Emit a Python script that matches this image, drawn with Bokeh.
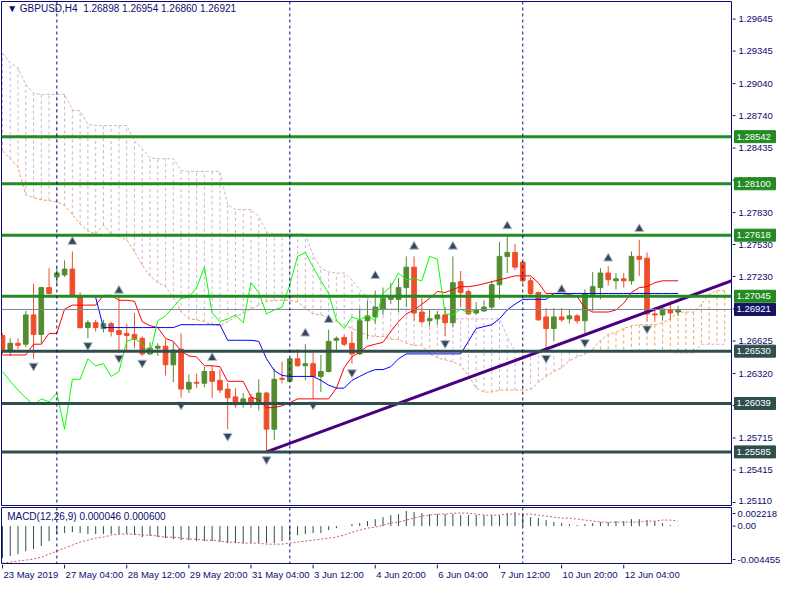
from bokeh.plotting import figure
from bokeh.models import Span, Label, Range1d
from bokeh.layouts import column, row
from bokeh.embed import file_html
from bokeh.resources import INLINE
from bokeh.core.properties import value
import numpy as np

# ---------------- data ----------------
symbol = "GBPUSD,H4"
time_ticks = [0, 8, 16, 24, 32, 40, 48, 56, 64, 72, 80]
time_labels = ["23 May 2019", "27 May 04:00", "28 May 12:00", "29 May 20:00", "31 May 04:00",
               "3 Jun 12:00", "4 Jun 20:00", "6 Jun 04:00", "7 Jun 12:00", "10 Jun 20:00", "12 Jun 04:00"]
week_separators = [7, 37, 67]
price_ticks = [1.29645, 1.29345, 1.29040, 1.28740, 1.28435, 1.28135, 1.27830, 1.27530, 1.27230,
               1.26925, 1.26625, 1.26320, 1.26020, 1.25715, 1.25415, 1.25110]

opens = [1.26677, 1.26540, 1.26604, 1.26595, 1.26870, 1.26687, 1.27126, 1.27226, 1.27245, 1.27300,
         1.27043, 1.26751, 1.26797, 1.26742, 1.26788, 1.26723, 1.26696, 1.26687, 1.26650, 1.26504,
         1.26558, 1.26576, 1.26402, 1.26549, 1.26174, 1.26238, 1.26229, 1.26339, 1.26256, 1.26174,
         1.26101, 1.26046, 1.26092, 1.26055, 1.26137, 1.25798, 1.26275, 1.26247, 1.26458, 1.26393,
         1.26412, 1.26293, 1.26339, 1.26632, 1.26659, 1.26604, 1.26504, 1.26815, 1.26851, 1.26925,
         1.27016, 1.27016, 1.27126, 1.27318, 1.26897, 1.26815, 1.26833, 1.26870, 1.26797, 1.27181,
         1.27089, 1.26888, 1.26907, 1.26943, 1.27153, 1.27419, 1.27456, 1.27364, 1.27190, 1.27080,
         1.26851, 1.26742, 1.26851, 1.26833, 1.26861, 1.26815, 1.27062, 1.27126, 1.27263, 1.27190,
         1.27208, 1.27190, 1.27419, 1.27401, 1.26879, 1.26870, 1.26916, 1.26898]
highs = [1.26696, 1.26650, 1.26650, 1.26907, 1.27163, 1.27135, 1.27309, 1.27318, 1.27382, 1.27465,
         1.27080, 1.26824, 1.26824, 1.26824, 1.26806, 1.27053, 1.26788, 1.26888, 1.26668, 1.26613,
         1.26604, 1.26641, 1.26613, 1.26696, 1.26311, 1.26320, 1.26384, 1.26393, 1.26357, 1.26229,
         1.26183, 1.26137, 1.26128, 1.26266, 1.26146, 1.26366, 1.26430, 1.26467, 1.26549, 1.26595,
         1.26513, 1.26494, 1.26732, 1.26668, 1.26687, 1.26714, 1.26934, 1.27007, 1.27098, 1.27126,
         1.27172, 1.27217, 1.27419, 1.27419, 1.27025, 1.26916, 1.26907, 1.26943, 1.27419, 1.27282,
         1.27108, 1.26989, 1.27007, 1.27190, 1.27556, 1.27612, 1.27538, 1.27373, 1.27217, 1.27089,
         1.26934, 1.26934, 1.26934, 1.26916, 1.26879, 1.27108, 1.27272, 1.27309, 1.27327, 1.27263,
         1.27263, 1.27465, 1.27575, 1.27456, 1.26943, 1.26943, 1.26998, 1.26954]
lows = [1.26504, 1.26485, 1.26549, 1.26567, 1.26458, 1.26604, 1.27062, 1.27145, 1.27226, 1.27043,
        1.26742, 1.26650, 1.26714, 1.26705, 1.26668, 1.26513, 1.26531, 1.26558, 1.26485, 1.26494,
        1.26485, 1.26302, 1.26238, 1.26092, 1.26137, 1.26183, 1.26192, 1.26092, 1.26137, 1.25798,
        1.26000, 1.26000, 1.26000, 1.25973, 1.25585, 1.25698, 1.26229, 1.26238, 1.26384, 1.26256,
        1.26082, 1.26146, 1.26330, 1.26540, 1.26576, 1.26412, 1.26494, 1.26641, 1.26788, 1.26870,
        1.26971, 1.26897, 1.26943, 1.26815, 1.26788, 1.26760, 1.26778, 1.26668, 1.26751, 1.26943,
        1.26870, 1.26870, 1.26897, 1.26916, 1.27016, 1.27263, 1.27291, 1.27172, 1.27053, 1.26815,
        1.26531, 1.26622, 1.26806, 1.26788, 1.26788, 1.26696, 1.26907, 1.27016, 1.27145, 1.27108,
        1.27126, 1.27153, 1.27236, 1.26806, 1.26806, 1.26815, 1.26824, 1.26860]
closes = [1.26540, 1.26604, 1.26585, 1.26870, 1.26687, 1.27126, 1.27071, 1.27263, 1.27300, 1.27053,
          1.26751, 1.26797, 1.26751, 1.26788, 1.26714, 1.26687, 1.26677, 1.26641, 1.26504, 1.26558,
          1.26576, 1.26402, 1.26540, 1.26174, 1.26238, 1.26229, 1.26339, 1.26247, 1.26165, 1.26092,
          1.26027, 1.26082, 1.26055, 1.26137, 1.25798, 1.26266, 1.26266, 1.26458, 1.26393, 1.26412,
          1.26293, 1.26339, 1.26622, 1.26650, 1.26595, 1.26504, 1.26815, 1.26861, 1.26943, 1.27025,
          1.27034, 1.27126, 1.27318, 1.26888, 1.26806, 1.26833, 1.26870, 1.26797, 1.27172, 1.27080,
          1.26879, 1.26916, 1.26943, 1.27153, 1.27419, 1.27456, 1.27318, 1.27190, 1.27071, 1.26824,
          1.26742, 1.26851, 1.26824, 1.26861, 1.26815, 1.27071, 1.27135, 1.27263, 1.27200, 1.27208,
          1.27190, 1.27419, 1.27392, 1.26879, 1.26870, 1.26925, 1.26888, 1.26921]

tenkan = [1.26494, 1.26494, 1.26494, 1.26494, 1.26595, 1.26595, 1.26696, 1.26696, 1.26925, 1.26962,
          1.26962, 1.26962, 1.26962, 1.27053, 1.27053, 1.27007, 1.27007, 1.26998, 1.26806, 1.26769,
          1.26751, 1.26650, 1.26622, 1.26531, 1.26485, 1.26476, 1.26393, 1.26393, 1.26384, 1.26247,
          1.26247, 1.26247, 1.26101, 1.26073, 1.26000, 1.26000, 1.26018, 1.26046, 1.26082, 1.26082,
          1.26082, 1.26082, 1.26082, 1.26183, 1.26375, 1.26476, 1.26522, 1.26576, 1.26595, 1.26613,
          1.26714, 1.26806, 1.26879, 1.26916, 1.26971, 1.27025, 1.27089, 1.27080, 1.27108, 1.27135,
          1.27135, 1.27145, 1.27163, 1.27181, 1.27200, 1.27217, 1.27236, 1.27236, 1.27236, 1.27172,
          1.27071, 1.27071, 1.27071, 1.27062, 1.27043, 1.26934, 1.26897, 1.26897, 1.26897, 1.26916,
          1.26980, 1.27080, 1.27126, 1.27135, 1.27172, 1.27190, 1.27190, 1.27190]
kijun_start = 12
kijun = [1.27034, 1.26751, 1.26751, 1.26751, 1.26751, 1.26751, 1.26751, 1.26751, 1.26751, 1.26751,
         1.26751, 1.26778, 1.26778, 1.26778, 1.26778, 1.26778, 1.26778, 1.26632, 1.26632, 1.26632,
         1.26632, 1.26622, 1.26458, 1.26348, 1.26302, 1.26293, 1.26293, 1.26293, 1.26293, 1.26256,
         1.26211, 1.26183, 1.26183, 1.26256, 1.26293, 1.26330, 1.26357, 1.26357, 1.26384, 1.26458,
         1.26504, 1.26504, 1.26504, 1.26504, 1.26504, 1.26504, 1.26504, 1.26504, 1.26622, 1.26742,
         1.26760, 1.26778, 1.26833, 1.26916, 1.26971, 1.27016, 1.27016, 1.27016, 1.27016, 1.27071,
         1.27071, 1.27071, 1.27071, 1.27071, 1.27071, 1.27071, 1.27071, 1.27071, 1.27071, 1.27071,
         1.27071, 1.27071, 1.27071, 1.27071, 1.27071, 1.27071]
senkou_a = [1.28408, 1.28335, 1.28253, 1.27996, 1.27969, 1.27950, 1.27941, 1.27932, 1.27895, 1.27813,
            1.27721, 1.27657, 1.27630, 1.27712, 1.27630, 1.27603, 1.27575, 1.27464, 1.27337, 1.27236,
            1.27172, 1.27135, 1.27034, 1.26897, 1.26833, 1.26824, 1.26806, 1.26778, 1.26769, 1.26806,
            1.26851, 1.26888, 1.26925, 1.26962, 1.26998, 1.27007, 1.27007, 1.27007, 1.26989, 1.26934,
            1.26879, 1.26870, 1.26843, 1.26806, 1.26769, 1.26742, 1.26714, 1.26677, 1.26668, 1.26668,
            1.26641, 1.26641, 1.26604, 1.26585, 1.26585, 1.26504, 1.26467, 1.26448, 1.26430, 1.26393,
            1.26302, 1.26183, 1.26146, 1.26146, 1.26165, 1.26165, 1.26165, 1.26165, 1.26165, 1.26238,
            1.26293, 1.26339, 1.26375, 1.26439, 1.26476, 1.26504, 1.26549, 1.26632, 1.26687, 1.26705,
            1.26742, 1.26769, 1.26778, 1.26778, 1.26778, 1.26797, 1.26833, 1.26897, 1.26897, 1.26897,
            1.26971, 1.27062, 1.27098, 1.27098]
senkou_b = [1.29324, 1.29232, 1.29187, 1.29031, 1.28948, 1.28939, 1.28939, 1.28939, 1.28939, 1.28793,
            1.28784, 1.28656, 1.28646, 1.28646, 1.28646, 1.28646, 1.28646, 1.28499, 1.28427, 1.28344,
            1.28335, 1.28335, 1.28335, 1.28225, 1.28216, 1.28216, 1.28216, 1.28216, 1.28216, 1.27904,
            1.27858, 1.27858, 1.27858, 1.27795, 1.27648, 1.27630, 1.27630, 1.27630, 1.27630, 1.27630,
            1.27428, 1.27309, 1.27272, 1.27263, 1.27263, 1.27199, 1.27108, 1.27034, 1.26925, 1.26925,
            1.26925, 1.26925, 1.26925, 1.26925, 1.26925, 1.26833, 1.26833, 1.26833, 1.26833, 1.26833,
            1.26833, 1.26833, 1.26833, 1.26833, 1.26833, 1.26668, 1.26531, 1.26531, 1.26531, 1.26531,
            1.26531, 1.26531, 1.26531, 1.26531, 1.26531, 1.26531, 1.26531, 1.26531, 1.26531, 1.26531,
            1.26531, 1.26531, 1.26531, 1.26531, 1.26531, 1.26531, 1.26531, 1.26513, 1.26513, 1.26513,
            1.26595, 1.26595, 1.26595, 1.26595]
chikou_shift = 26

frac_up_bar = [9, 15, 27, 39, 42, 48, 53, 58, 65, 72, 78, 82]
frac_up_price = [1.27556, 1.27098, 1.26466, 1.26696, 1.26824, 1.27236, 1.27511, 1.27511, 1.27703,
                 1.27107, 1.27400, 1.27676]
frac_dn_bar = [4, 11, 15, 18, 23, 29, 34, 40, 45, 57, 70, 75, 83]
frac_dn_price = [1.26393, 1.26585, 1.26467, 1.26421, 1.26027, 1.25734, 1.25515, 1.26027, 1.26330,
                 1.26604, 1.26466, 1.26613, 1.26742]

trend_anchor_bar = [34, 87]
trend_anchor_price = [1.25585, 1.27005]

level_prices = [1.28542, 1.28100, 1.27618, 1.27045, 1.26530, 1.26039, 1.25585]
level_labels = ["1.28542", "1.28100", "1.27618", "1.27045", "1.26530", "1.26039", "1.25585"]
level_colors = ["#228b22", "#228b22", "#228b22", "#228b22", "#2f4f4f", "#2f4f4f", "#2f4f4f"]
current_price = 1.26921
current_label = "1.26921"

macd_hist = [-0.00381, -0.00358, -0.00334, -0.00298, -0.00274, -0.00238, -0.00179, -0.00095, -0.00083, -0.00072,
             -0.00083, -0.00095, -0.00095, -0.00095, -0.00095, -0.00095, -0.00095, -0.00107, -0.00131, -0.00119,
             -0.00131, -0.00143, -0.00155, -0.00167, -0.00167, -0.00179, -0.00179, -0.00179, -0.00191, -0.00203,
             -0.00203, -0.00203, -0.00203, -0.00203, -0.00203, -0.00203, -0.00179, -0.00143, -0.00107, -0.00095,
             -0.00083, -0.00083, -0.00048, -0.00024, -0.00002, 0.00024, 0.00036, 0.00060, 0.00083, 0.00107,
             0.00131, 0.00143, 0.00179, 0.00167, 0.00155, 0.00143, 0.00143, 0.00143, 0.00143, 0.00131,
             0.00131, 0.00131, 0.00131, 0.00131, 0.00131, 0.00155, 0.00167, 0.00143, 0.00107, 0.00095,
             0.00072, 0.00048, 0.00036, 0.00024, 0.00012, 0.00024, 0.00036, 0.00048, 0.00048, 0.00060,
             0.00060, 0.00083, 0.00083, 0.00072, 0.00060, 0.00036, 0.00012, 0.000046]
macd_signal = [-0.00441, -0.00429, -0.00417, -0.00405, -0.00393, -0.00370, -0.00334, -0.00298, -0.00262, -0.00226,
               -0.00191, -0.00167, -0.00143, -0.00131, -0.00107, -0.00095, -0.00095, -0.00095, -0.00107, -0.00107,
               -0.00119, -0.00131, -0.00131, -0.00143, -0.00155, -0.00155, -0.00167, -0.00167, -0.00179, -0.00191,
               -0.00191, -0.00203, -0.00203, -0.00203, -0.00215, -0.00215, -0.00215, -0.00203, -0.00191, -0.00179,
               -0.00167, -0.00155, -0.00143, -0.00131, -0.00107, -0.00072, -0.00048, -0.00024, -0.00012, 0.00012,
               0.00036, 0.00048, 0.00072, 0.00095, 0.00119, 0.00131, 0.00143, 0.00143, 0.00155, 0.00155,
               0.00155, 0.00143, 0.00131, 0.00131, 0.00131, 0.00143, 0.00143, 0.00143, 0.00143, 0.00131,
               0.00119, 0.00107, 0.00095, 0.00095, 0.00083, 0.00072, 0.00060, 0.00048, 0.00048, 0.00048,
               0.00048, 0.00048, 0.00048, 0.00060, 0.00060, 0.00072, 0.00072, 0.00060]
macd_range = [-0.004455, 0.002218]
macd_tick_pos = [0.0015, 0.0, -0.00398]
macd_tick_text = ["0.002218", "0.00", "-0.004455"]

# ---------------- style ----------------
FONT = "Liberation Sans"
NAVY = "#0c0c6e"
BULL = "#548b30"
BEAR = "#ef4e2b"
THISTLE = "#cfb2cf"
SANDY = "#f0a060"
FW = 730      # chart frame width
AW = 52       # price-scale strip width
MAIN_H = 504
MACD_H = 56

o = np.array(opens); h = np.array(highs); l = np.array(lows); c = np.array(closes)
bars = np.arange(len(o))
xr = Range1d(-0.125, 93.875)
yr_main = Range1d(1.25082, 1.29810)
yr_macd = Range1d(macd_range[0], macd_range[1])


def clean(fig, outline=True):
    fig.grid.visible = False
    fig.outline_line_color = NAVY if outline else None
    fig.background_fill_color = "white"
    fig.border_fill_color = "white"


def scale_strip(yr, fh, top, bottom):
    s = figure(frame_width=AW, frame_height=fh, x_range=Range1d(0, AW), y_range=yr,
               output_backend="svg", toolbar_location=None, x_axis_location=None, y_axis_location=None,
               min_border_left=0, min_border_right=0, min_border_top=top, min_border_bottom=bottom)
    clean(s, outline=False)
    return s


# ---------------- main panel ----------------
p = figure(frame_width=FW, frame_height=MAIN_H, x_range=xr, y_range=yr_main,
           output_backend="svg", toolbar_location=None, x_axis_location=None, y_axis_location=None,
           min_border_left=1, min_border_right=1, min_border_top=1, min_border_bottom=1)
clean(p)

sa = np.array(senkou_a); sb = np.array(senkou_b)
cb = np.arange(len(sa))
hatch_col = [THISTLE if b > a else SANDY for a, b in zip(sa, sb)]
p.segment(x0=cb, y0=sa, x1=cb, y1=sb, line_color=hatch_col, line_width=1, line_dash="3 3")
p.line(cb, sa, line_color=SANDY, line_width=1, line_dash="3 2")
p.line(cb, sb, line_color=THISTLE, line_width=1, line_dash="3 2")

cols = [BULL if cc >= oo else BEAR for oo, cc in zip(o, c)]
p.segment(x0=bars, y0=l, x1=bars, y1=h, line_color=cols, line_width=1)
p.vbar(x=bars, width=0.6, top=np.maximum(o, c), bottom=np.minimum(o, c),
       fill_color=cols, line_color=cols, line_width=1)

p.line(bars, tenkan, line_color="#ff0000", line_width=1)
p.line(np.arange(kijun_start, kijun_start + len(kijun)), kijun, line_color="#0000ff", line_width=1)
p.line(bars[:len(c) - chikou_shift], c[chikou_shift:], line_color="#00ff00", line_width=1)

slope = (trend_anchor_price[1] - trend_anchor_price[0]) / (trend_anchor_bar[1] - trend_anchor_bar[0])
tx = [trend_anchor_bar[0], 95]
ty = [trend_anchor_price[0], trend_anchor_price[0] + slope * (95 - trend_anchor_bar[0])]
p.line(tx, ty, line_color="#4b0082", line_width=3)

p.scatter(frac_up_bar, frac_up_price, marker="triangle", size=9, fill_color="#3a4752",
          line_color="#a9bccf", line_width=1)
p.scatter(frac_dn_bar, frac_dn_price, marker="inverted_triangle", size=9, fill_color="#3a4752",
          line_color="#a9bccf", line_width=1)

for lv, col in zip(level_prices, level_colors):
    p.add_layout(Span(location=lv, dimension="width", line_color=col, line_width=3))
p.add_layout(Span(location=current_price, dimension="width", line_color="#778899", line_width=1))
for sep in week_separators:
    p.add_layout(Span(location=sep, dimension="height", line_color=NAVY, line_width=1, line_dash="3 3"))

header = "\u25BC {}\u00a0\u00a0{:.5f} {:.5f} {:.5f} {:.5f}".format(symbol, opens[-1], highs[-1], lows[-1], closes[-1])
p.add_layout(Label(x=0.6, y=1.29740, text=header, text_font=FONT, text_font_size="10px",
                   text_color=NAVY, text_baseline="middle", text_align="left"))

# price scale strip (right of main panel)
pa = scale_strip(yr_main, MAIN_H, 1, 1)
n = len(price_ticks)
pa.segment(x0=[0] * n, y0=price_ticks, x1=[3] * n, y1=price_ticks, line_color=NAVY, line_width=1)
pa.text(x=[6] * n, y=price_ticks, text=["{:.5f}".format(v) for v in price_ticks],
        text_font=value(FONT), text_font_size="9.5px", text_color=NAVY,
        text_align="left", text_baseline="middle", y_offset=[0] * (n - 1) + [-2])
pa.rect(x=[22.5] * len(level_prices), y=level_prices, width=41, height=12, height_units="screen",
        fill_color=level_colors, line_color=level_colors)
pa.text(x=[4] * len(level_prices), y=level_prices, text=level_labels,
        text_font=value(FONT), text_font_size="9.5px", text_color="white",
        text_align="left", text_baseline="middle")
pa.rect(x=[22.5], y=[current_price], width=41, height=12, height_units="screen",
        fill_color="#141464", line_color="#141464")
pa.text(x=[4], y=[current_price], text=[current_label], text_font=value(FONT), text_font_size="9.5px",
        text_color="white", text_align="left", text_baseline="middle")

# ---------------- MACD panel ----------------
m = figure(frame_width=FW, frame_height=MACD_H, x_range=xr, y_range=yr_macd,
           output_backend="svg", toolbar_location=None, x_axis_location=None, y_axis_location=None,
           min_border_left=1, min_border_right=1, min_border_top=1, min_border_bottom=1)
clean(m)
m.segment(x0=bars, y0=0, x1=bars, y1=macd_hist, line_color="#2f4f4f", line_width=1)
m.line(bars, macd_signal, line_color="indianred", line_width=1, line_dash="2 2")
for sep in week_separators:
    m.add_layout(Span(location=sep, dimension="height", line_color=NAVY, line_width=1, line_dash="3 3"))
m.add_layout(Label(x=0.6, y=0.00119,
                   text="MACD(12,26,9) {:.6f} {:.6f}".format(macd_hist[-1], macd_signal[-1]),
                   text_font=FONT, text_font_size="10px", text_color=NAVY,
                   text_baseline="middle", text_align="left"))

ma = scale_strip(yr_macd, MACD_H, 1, 1)
k = len(macd_tick_pos)
ma.segment(x0=[0] * k, y0=macd_tick_pos, x1=[3] * k, y1=macd_tick_pos, line_color=NAVY, line_width=1)
ma.text(x=[5] * k, y=macd_tick_pos, text=macd_tick_text,
        text_font=value(FONT), text_font_size="9.5px", text_color=NAVY,
        text_align="left", text_baseline="middle")

# ---------------- time axis strip ----------------
t = figure(frame_width=FW, frame_height=18, x_range=xr, y_range=Range1d(0, 1),
           output_backend="svg", toolbar_location=None, x_axis_location=None, y_axis_location=None,
           min_border_left=1, min_border_right=1 + AW, min_border_top=0, min_border_bottom=0)
clean(t, outline=False)
t.segment(x0=time_ticks, y0=[1] * len(time_ticks), x1=time_ticks, y1=[0.78] * len(time_ticks),
          line_color=NAVY, line_width=1)
t.text(x=time_ticks, y=[0.42] * len(time_ticks), text=time_labels, text_font=value(FONT),
       text_font_size="9.5px", text_color=NAVY, text_align="left", text_baseline="middle", x_offset=1)

layout = column(row(p, pa, spacing=0), row(m, ma, spacing=0), t, spacing=0)
open("out.html", "w").write(file_html(layout, INLINE))
